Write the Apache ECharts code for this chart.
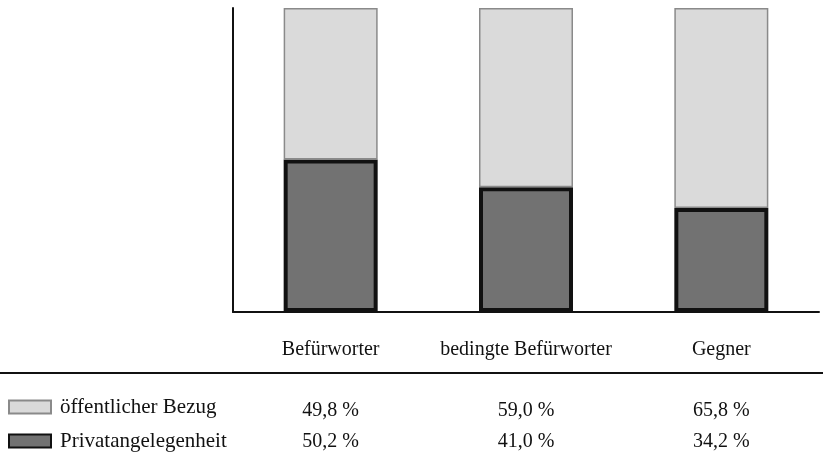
<!DOCTYPE html>
<html>
<head>
<meta charset="utf-8">
<script src="https://cdn.jsdelivr.net/npm/echarts@6/dist/echarts.min.js"></script>
<style>
  html, body { margin: 0; padding: 0; background: #fff; }
  #chart { width: 823px; height: 461px; }
</style>
</head>
<body>
<div id="chart"></div>
<script>
// Attitude groups and the share of each view (in percent)
const categories = ['Befürworter', 'bedingte Befürworter', 'Gegner'];
const seriesNames = ['öffentlicher Bezug', 'Privatangelegenheit'];
const publicShare = [49.8, 59.0, 65.8];
const privateShare = [50.2, 41.0, 34.2];

const FONT = "'Liberation Serif', 'Times New Roman', serif";
const FONT_SIZE = 20;
const fmtPct = v => v.toFixed(1).replace('.', ',') + ' %';

const chart = echarts.init(document.getElementById('chart'), null, { renderer: 'canvas' });

// Hidden category axes that carry the value rows of the table below the plot
function valueRowAxis(values, offset) {
  return {
    type: 'category',
    data: categories,
    position: 'bottom',
    offset: offset,
    axisLine: { show: false },
    axisTick: { show: false },
    axisLabel: {
      interval: 0,
      margin: 8,
      fontFamily: FONT,
      fontSize: FONT_SIZE,
      color: '#111',
      formatter: (val, idx) => fmtPct(values[idx])
    }
  };
}

chart.setOption({
  animation: false,
  backgroundColor: '#fff',
  grid: { left: 233, right: 4, top: 8, bottom: 149 },
  legend: {
    orient: 'vertical',
    left: 3,
    top: 391,
    itemWidth: 42,
    itemHeight: 13,
    itemGap: 12,
    icon: 'rect',
    data: seriesNames,
    textStyle: {
      fontFamily: FONT, fontSize: 21, color: '#111',
      lineHeight: 22, padding: [0, 0, 0, 4]
    },
    selectedMode: false
  },
  xAxis: [
    {
      type: 'category',
      data: categories,
      position: 'bottom',
      axisLine: { lineStyle: { color: '#111', width: 2 } },
      axisTick: { show: false },
      axisLabel: { interval: 0, margin: 28, fontFamily: FONT, fontSize: FONT_SIZE, color: '#111' }
    },
    valueRowAxis(publicShare, 81),
    valueRowAxis(privateShare, 112)
  ],
  yAxis: {
    type: 'value',
    min: 0,
    max: 100,
    axisLine: { show: true, lineStyle: { color: '#111', width: 2 } },
    axisTick: { show: false },
    axisLabel: { show: false },
    splitLine: { show: false }
  },
  series: [
    {
      name: 'Privatangelegenheit',
      type: 'bar',
      stack: 'total',
      barWidth: 94,
      data: privateShare,
      itemStyle: { color: '#727272', borderColor: '#111', borderWidth: 4 }
    },
    {
      name: 'öffentlicher Bezug',
      type: 'bar',
      stack: 'total',
      barWidth: 96,
      data: publicShare,
      itemStyle: { color: '#dadada', borderColor: '#8a8a8a', borderWidth: 1.5 }
    }
  ],
  graphic: [
    {
      type: 'line',
      shape: { x1: 0, y1: 373, x2: 823, y2: 373 },
      style: { stroke: '#111', lineWidth: 2 }
    }
  ]
});
</script>
</body>
</html>
